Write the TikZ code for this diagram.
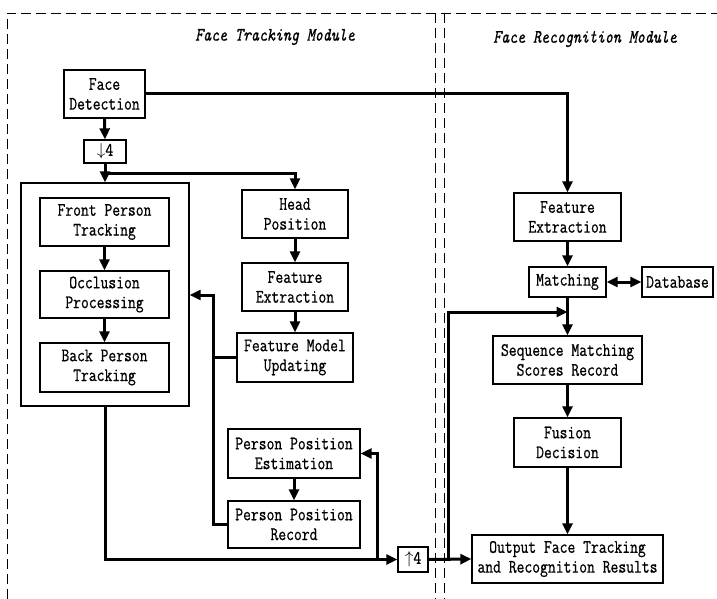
\documentclass[tikz,border=0pt]{standalone}
\usepackage{fontspec}
\usetikzlibrary{arrows.meta}
\newfontfamily\labfont{Latin Modern Mono}[FakeStretch=0.8, FakeBold=0.7]
\newcommand\lab{\fontsize{19}{19.8}\selectfont\labfont}
\newcommand\ttl{\fontsize{19}{19.8}\selectfont\labfont\itshape}
\begin{document}
\begin{tikzpicture}[x=1pt,y=-1pt,
  box/.style={draw, line width=1.3pt, align=center, inner sep=0pt, font=\lab},
  conn/.style={line width=3pt, -{Triangle[length=11pt,width=10pt]}},
  plain/.style={line width=3pt},
  frame/.style={dash pattern=on 10pt off 5pt, line width=0.9pt},
  title/.style={font=\ttl, inner sep=0pt}
]
\useasboundingbox (0,0) rectangle (717,599);
% module frames
\draw[frame] (7,599) -- (7,13) -- (717,13);
\draw[frame] (435,13) -- (435,599);
\draw[frame] (444,13) -- (444,599);
\node[title] (t1) at (275,37) {Face Tracking Module};
\node[title] (t2) at (585,39) {Face Recognition Module};

% tracking side
\node[box, minimum width=81, minimum height=48] (fd) at (104.5,94) {Face\\Detection};
\node[box, minimum width=42, minimum height=23] (d4) at (105,151.5) {$\downarrow$4};
\node[draw, line width=1.3pt, minimum width=168, minimum height=223, inner sep=0pt] (track) at (105,294.5) {};
\node[box, minimum width=129, minimum height=48] (fpt) at (104.5,222) {Front Person\\Tracking};
\node[box, minimum width=129, minimum height=47] (occ) at (104.5,294.5) {Occlusion\\Processing};
\node[box, minimum width=129, minimum height=49] (bpt) at (104.5,367.5) {Back Person\\Tracking};
\node[box, minimum width=106, minimum height=48] (hp) at (295,214) {Head\\Position};
\node[box, minimum width=106, minimum height=48] (fe1) at (295,287) {Feature\\Extraction};
\node[box, minimum width=116, minimum height=49] (fmu) at (295,357.5) {Feature Model\\Updating};
\node[box, minimum width=132, minimum height=49] (ppe) at (294,453.5) {Person Position\\Estimation};
\node[box, minimum width=132, minimum height=47] (ppr) at (294,524.5) {Person Position\\Record};
\node[box, minimum width=30, minimum height=25] (u4) at (413,559.5) {$\uparrow$4};

% recognition side
\node[box, minimum width=107, minimum height=48] (fe2) at (567.5,217) {Feature\\Extraction};
\node[box, minimum width=77, minimum height=30] (mat) at (567.5,282) {Matching};
\node[box, minimum width=71, minimum height=30] (db) at (677.5,282) {Database};
\node[box, minimum width=149, minimum height=48] (smr) at (567.5,360) {Sequence Matching\\Scores Record};
\node[box, minimum width=107, minimum height=49] (fus) at (567.5,442.5) {Fusion\\Decision};
\node[box, minimum width=191, minimum height=48] (out) at (567.5,559) {Output Face Tracking\\and Recognition Results};

% helper coordinates
\coordinate (j) at (105,173);
\coordinate (k) at (213,295);
\coordinate (b) at (377,559.5);
\coordinate (t) at (448,559.5);
\coordinate (m) at (567.5,312);

% connectors
\draw[conn] (fd.east) -| (fe2.north);
\draw[conn] (fd.south) -- (d4.north);
\draw[conn] (d4.south) -- (track.north);
\draw[conn] (j) -| (hp.north);
\draw[conn] (fpt) -- (occ);
\draw[conn] (occ) -- (bpt);
\draw[conn] (hp) -- (fe1);
\draw[conn] (fe1) -- (fmu);
\draw[conn] (ppe) -- (ppr);
\draw[conn] (ppr.west) -| (k) -- (track.east |- k);
\draw[plain] (fmu.west) -- (fmu.west -| k);
\draw[conn] (track.south) |- (u4.west);
\draw[conn] (b) |- (ppe.east);
\draw[conn] (u4.east) -- (out.west);
\draw[conn] (t) |- (m);
\draw[conn] (fe2) -- (mat);
\draw[conn] (mat) -- (smr);
\draw[conn] (smr) -- (fus);
\draw[conn] (fus) -- (out);
\draw[line width=3pt, {Triangle[length=11pt,width=10pt]}-{Triangle[length=11pt,width=10pt]}] (mat.east) -- (db.west);
\end{tikzpicture}
\end{document}
